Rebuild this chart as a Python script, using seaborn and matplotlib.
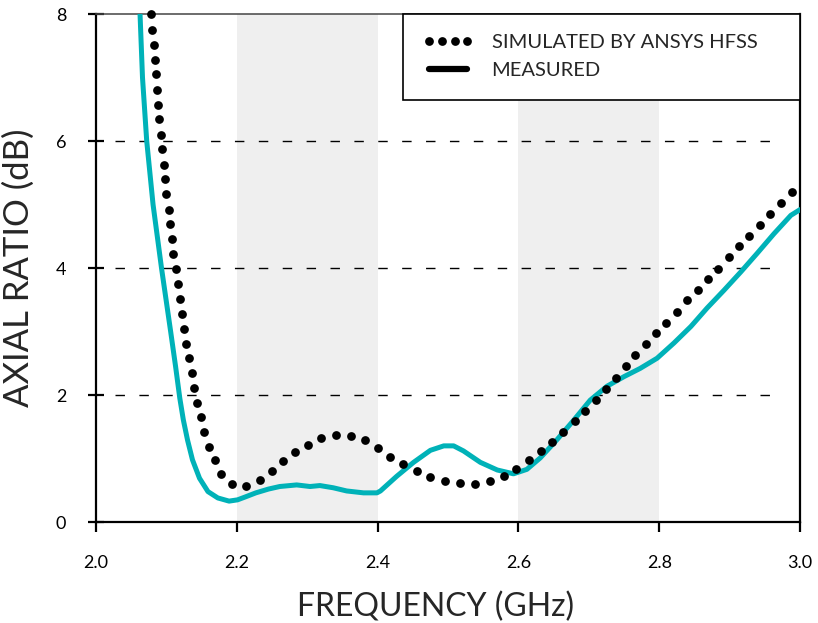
import numpy as np
import pandas as pd
import seaborn as sns
import matplotlib.pyplot as plt

# Simulated (ANSYS HFSS) axial ratio
f_sim = [2.0785, 2.080, 2.082, 2.084, 2.085, 2.087, 2.088, 2.090, 2.092, 2.094,
         2.096, 2.098, 2.100, 2.103, 2.105, 2.108, 2.110, 2.113, 2.116, 2.119,
         2.122, 2.125, 2.128, 2.132, 2.136, 2.139, 2.144, 2.149, 2.154, 2.161,
         2.169, 2.178, 2.193, 2.213, 2.233, 2.250, 2.266, 2.283, 2.301, 2.320,
         2.341, 2.362, 2.382, 2.400, 2.418, 2.436, 2.456, 2.475, 2.496, 2.517,
         2.538, 2.559, 2.579, 2.597, 2.615, 2.632, 2.648, 2.664, 2.680, 2.695,
         2.710, 2.724, 2.738, 2.753, 2.766, 2.781, 2.795, 2.810, 2.825, 2.840,
         2.855, 2.869, 2.884, 2.899, 2.914, 2.928, 2.943, 2.958, 2.973, 2.988]
ar_sim = [8.00, 7.75, 7.52, 7.28, 7.05, 6.81, 6.57, 6.34, 6.10, 5.87,
          5.63, 5.40, 5.16, 4.92, 4.69, 4.45, 4.22, 3.98, 3.75, 3.51,
          3.28, 3.04, 2.81, 2.58, 2.34, 2.11, 1.88, 1.65, 1.42, 1.19,
          0.97, 0.76, 0.60, 0.57, 0.67, 0.80, 0.96, 1.11, 1.22, 1.32,
          1.37, 1.36, 1.29, 1.17, 1.03, 0.91, 0.80, 0.71, 0.64, 0.61,
          0.60, 0.64, 0.72, 0.84, 0.97, 1.12, 1.26, 1.42, 1.59, 1.75,
          1.92, 2.09, 2.27, 2.45, 2.63, 2.80, 2.97, 3.14, 3.31, 3.49,
          3.65, 3.83, 3.99, 4.17, 4.34, 4.50, 4.68, 4.85, 5.02, 5.19]

# Measured axial ratio
f_meas = [2.0625, 2.066, 2.072, 2.081, 2.093, 2.106, 2.113, 2.119, 2.124, 2.130,
          2.137, 2.147, 2.159, 2.173, 2.189, 2.201, 2.213, 2.227, 2.245, 2.261,
          2.285, 2.304, 2.318, 2.337, 2.356, 2.380, 2.399, 2.404, 2.427, 2.451,
          2.475, 2.494, 2.508, 2.522, 2.546, 2.570, 2.593, 2.612, 2.631, 2.655,
          2.679, 2.702, 2.726, 2.750, 2.773, 2.797, 2.821, 2.845, 2.868, 2.892,
          2.916, 2.939, 2.963, 2.987, 3.000]
ar_meas = [8.00, 7.00, 6.00, 5.00, 4.00, 3.00, 2.45, 1.95, 1.61, 1.29,
           0.98, 0.69, 0.48, 0.38, 0.33, 0.35, 0.40, 0.46, 0.52, 0.56,
           0.585, 0.56, 0.575, 0.54, 0.49, 0.46, 0.46, 0.49, 0.72, 0.94,
           1.13, 1.20, 1.20, 1.12, 0.94, 0.82, 0.76, 0.83, 1.01, 1.30,
           1.61, 1.92, 2.14, 2.29, 2.42, 2.58, 2.82, 3.08, 3.37, 3.65,
           3.94, 4.23, 4.54, 4.83, 4.92]

bands = [(2.2, 2.4), (2.6, 2.8)]
x_ticks = [2.0, 2.2, 2.4, 2.6, 2.8, 3.0]
y_ticks = [0, 2, 4, 6, 8]

sns.set_style("ticks")
plt.rcParams['font.family'] = ['Lato', 'DejaVu Sans']

fig, ax = plt.subplots(figsize=(8.18, 6.23), dpi=100)
fig.subplots_adjust(left=0.1174, right=0.978, bottom=0.162, top=0.9775)

for a, b in bands:
    ax.axvspan(a, b, color='#efefef', lw=0, zorder=0)
for y in [2, 4, 6]:
    ax.axhline(y, xmin=0.027, xmax=0.975, color='black', lw=1.0,
               dashes=(6.8, 10.4), zorder=1)

sim = pd.DataFrame({'f': f_sim, 'ar': ar_sim})
meas = pd.DataFrame({'f': f_meas, 'ar': ar_meas})

sns.lineplot(data=meas, x='f', y='ar', color='#00b2b8', lw=3.6,
             estimator=None, sort=False, label='MEASURED', ax=ax, zorder=3)
sns.lineplot(data=sim, x='f', y='ar', color='black', marker='o', linestyle='',
             markersize=6.3, markeredgewidth=0, estimator=None, sort=False,
             label='SIMULATED BY ANSYS HFSS', ax=ax, zorder=4, clip_on=False)

ax.set_xlim(2.0, 3.0)
ax.set_ylim(0, 8)
ax.set_xticks(x_ticks)
ax.set_xticklabels([f"{v:.1f}" for v in x_ticks])
ax.set_yticks(y_ticks)

for s in ['left', 'bottom', 'right']:
    ax.spines[s].set_linewidth(1.6)
    ax.spines[s].set_color('black')
ax.spines['top'].set_linewidth(1.1)
ax.spines['top'].set_color('#444444')

ax.tick_params(axis='x', direction='out', length=7, width=1.6, pad=17,
               labelsize=13, colors='black')
ax.tick_params(axis='y', direction='inout', length=11, width=1.6, pad=16,
               labelsize=13, colors='black')

ax.set_xlabel('FREQUENCY (GHz)', fontsize=23, va='top')
ax.set_ylabel('AXIAL RATIO (dB)', fontsize=25)
ax.xaxis.set_label_coords(0.483, -0.138)
ax.yaxis.set_label_coords(-0.087, 0.5)

handles, labels = ax.get_legend_handles_labels()
order = [1, 0]
leg = ax.legend([handles[i] for i in order], [labels[i] for i in order],
                loc='upper left', bbox_to_anchor=(0.436, 0, 0.564, 1),
                mode='expand', borderaxespad=0, fontsize=14.5, numpoints=4,
                handlelength=2.5, handletextpad=0.9, borderpad=1.0,
                labelspacing=0.55, fancybox=False, framealpha=1,
                edgecolor='black')
leg.get_frame().set_linewidth(1.2)
leg.legend_handles[1].set_color('black')
leg.legend_handles[1].set_linewidth(4.5)

fig.savefig('out.png', dpi=100)
